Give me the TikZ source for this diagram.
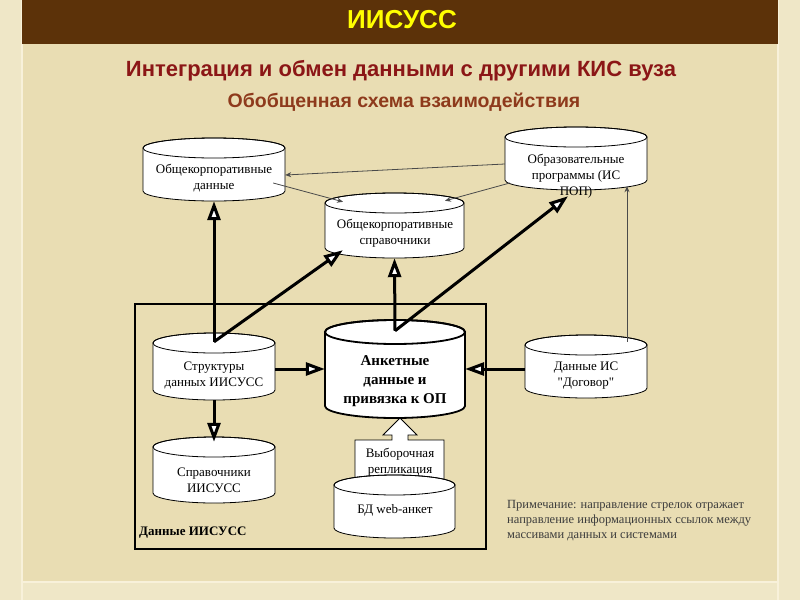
\documentclass[tikz,border=0pt]{standalone}
\usepackage{fontspec}
\setmainfont{Liberation Serif}
\newfontfamily\hsans{Liberation Sans}
\newfontfamily\rawserif[Ligatures=TeXOff]{Liberation Serif}
\usetikzlibrary{arrows.meta,calc}
\definecolor{outerbg}{HTML}{EFE7C7}
\definecolor{panelbg}{HTML}{E9DDB3}
\definecolor{panelline}{HTML}{F8F1DA}
\definecolor{bandbrown}{HTML}{5C3209}
\definecolor{titleyellow}{HTML}{FFFF00}
\definecolor{subred}{HTML}{8B1616}
\definecolor{subbrown}{HTML}{8E3A1C}
\definecolor{thingray}{HTML}{4A4A4A}
\definecolor{notegray}{HTML}{3C3C3C}
\tikzset{
  cylline/.style={draw=black,fill=white,line width=0.8pt},
  cyltop/.style={draw=black,line width=0.8pt},
  boldcyl/.style={line width=1.8pt},
  txt/.style={align=center,inner sep=0pt,font=\fontsize{13}{16}\selectfont},
  boldtxt/.style={align=center,inner sep=0pt,font=\bfseries\fontsize{15}{19}\selectfont},
  thick arrow/.style={line width=3pt,-{Triangle[open,fill=white,length=19pt,width=13pt]}},
  thin arrow/.style={draw=thingray,line width=0.8pt,-{Stealth[length=6pt,width=5pt]}},
}
\newcommand\dbcyl[7]{%
  \pgfmathsetmacro\dbcx{(#2+#4)/2}%
  \pgfmathsetmacro\dbcy{(#3+#5)/2}%
  \pgfmathsetmacro\dbcw{#4-#2}%
  \pgfmathsetmacro\dbch{#5-#3}%
  \pgfmathsetmacro\dbrx{(#4-#2)/2}%
  \node[inner sep=0pt,minimum width=\dbcw pt,minimum height=\dbch pt] (#1) at (\dbcx,\dbcy) {};
  \draw[cylline,#7] (#2,#3+#6) -- (#2,#5-#6) arc[start angle=180,end angle=360,x radius=\dbrx pt,y radius=#6 pt] -- (#4,#3+#6) arc[start angle=0,end angle=180,x radius=\dbrx pt,y radius=#6 pt] -- cycle;
  \draw[cyltop,#7] (\dbcx,#3+#6) ellipse[x radius=\dbrx pt,y radius=#6 pt];
}
\begin{document}
\begin{tikzpicture}[x=1pt,y=-1pt]
\useasboundingbox (0,0) rectangle (800,600);
% background
\fill[outerbg] (0,0) rectangle (800,600);
\fill[panelbg] (22,44) rectangle (778,582);
\draw[panelline,line width=1.5pt] (22,0) -- (22,600);
\draw[panelline,line width=1.5pt] (778,0) -- (778,600);
\draw[panelline,line width=1.5pt] (22,582) -- (778,582);
\fill[bandbrown] (22,0) rectangle (778,44);
% titles
\node[font=\hsans\bfseries\fontsize{26}{30}\selectfont,text=titleyellow] (title) at (402,20) {ИИСУСС};
\node[font=\hsans\bfseries\fontsize{22}{26}\selectfont,text=subred] (sub1) at (401,71) {Интеграция и обмен данными с другими КИС вуза};
\node[font=\hsans\bfseries\fontsize{19.5}{22}\selectfont,text=subbrown] (sub2) at (404,102) {Обобщенная схема взаимодействия};
% frame
\draw[line width=1.3pt] (135,304) rectangle (486,549);
\node[anchor=west,inner sep=0pt,font=\bfseries\fontsize{13}{15}\selectfont] (framelbl) at (139,533) {Данные ИИСУСС};
% block arrow (replication)
\draw[fill=white,line width=0.8pt] (400,418) -- (417,435) -- (408,435) -- (408,440) -- (444,440) -- (444,480) -- (355,480) -- (355,440) -- (392,440) -- (392,435) -- (383,435) -- cycle;
\node[txt] (repl) at (400,462) {Выборочная\\репликация};
% cylinders
\dbcyl{cd}{143}{138}{285}{201}{10}{}
\dbcyl{sd}{325}{193}{464}{258}{10}{}
\dbcyl{op}{505}{127}{647}{190}{10}{}
\dbcyl{st}{153}{333}{275}{400}{10}{}
\dbcyl{ak}{325}{320}{465}{418}{12}{boldcyl}
\dbcyl{sp}{153}{437}{275}{503}{10}{}
\dbcyl{bd}{334}{475}{455}{538}{10}{}
\dbcyl{dg}{525}{335}{647}{398}{10}{}
% cylinder texts
\node[txt] (cd-t) at (214,178) {Общекорпоративные\\данные};
\node[txt] (sd-t) at (395,233) {Общекорпоративные\\справочники};
\node[txt] (op-t) at (576,176) {Образовательные\\программы (ИС\\ПОП)};
\node[txt] (st-t) at (214,375) {Структуры\\данных ИИСУСС};
\node[boldtxt] (ak-t) at (395,381) {Анкетные\\данные и\\привязка к ОП};
\node[txt] (sp-t) at (214,480) {Справочники\\ИИСУСС};
\node[txt] (bd-t) at (395,510) {БД web-анкет};
\node[txt] (dg-t) at (586,376) {Данные ИС\\{\rawserif "Договор"}};
% thin arrows
\draw[thin arrow] ($(op.west)+(0,5.5)$) -- ($(cd.east)+(0,5.5)$);
\draw[thin arrow] ($(cd.east)+(-12,13.5)$) -- ($(sd.north)+(-51.5,9)$);
\draw[thin arrow] ($(op.west)+(5,24.5)$) -- ($(sd.north)+(50.5,8)$);
\draw[thin arrow] ($(dg.north)+(41,7)$) -- ($(op.south)+(51,-4)$);
% thick arrows
\draw[thick arrow] ($(st.north)+(0,9)$) -- (cd.south);
\draw[thick arrow] ($(st.north)+(0,9)$) -- ($(sd.south west)+(18,-8)$);
\draw[thick arrow] ($(ak.north)+(0,11)$) -- (sd.south);
\draw[thick arrow] ($(ak.north)+(0,11)$) -- ($(op.south)+(-8,6)$);
\draw[thick arrow] (st.east|-ak.west) -- (ak.west);
\draw[thick arrow] (dg.west|-ak.east) -- (ak.east);
\draw[thick arrow] (st.south) -- ($(sp.north)+(0,5)$);
% note
\node[anchor=north west,align=left,inner sep=0pt,text=notegray,font=\fontsize{12.5}{15}\selectfont] (note) at (507,500) {Примечание: направление стрелок отражает\\направление информационных ссылок между\\массивами данных и системами};
\end{tikzpicture}
\end{document}
